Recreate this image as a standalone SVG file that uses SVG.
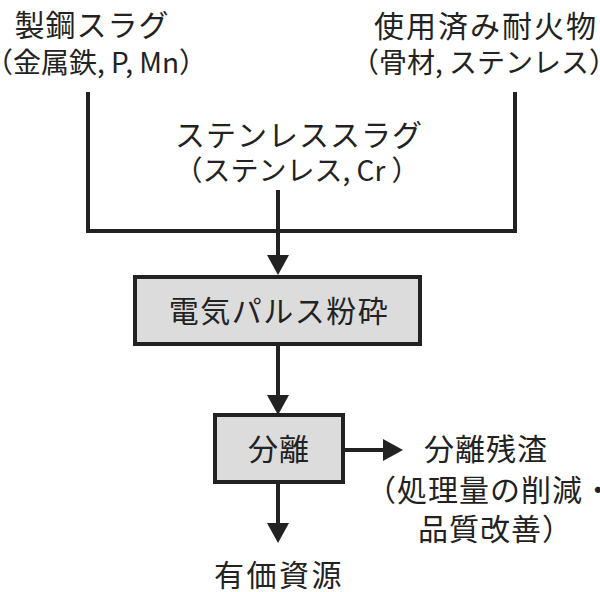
<svg xmlns="http://www.w3.org/2000/svg" width="600" height="592" viewBox="0 0 600 592">
<defs>
<style>
.t{font-family:"Noto Sans CJK JP","Noto Sans",sans-serif;fill:#222;text-anchor:middle}
.h{font-size:30px;letter-spacing:1px}
.s{font-size:28px}
.ln{stroke:#222;stroke-width:4;fill:none}
.box{fill:#dcdcdc;stroke:#222;stroke-width:4}
</style>
<marker id="ah" markerUnits="userSpaceOnUse" markerWidth="20" markerHeight="22" refX="12" refY="11" orient="auto">
<path d="M0,0 L20,11 L0,22 z" fill="#222"/>
</marker>
</defs>
<rect width="600" height="592" fill="#fff"/>
<g id="connectors">
<path class="ln" d="M88,92 V231 H515 V92"/>
<line class="ln" x1="278" y1="190" x2="278" y2="267" marker-end="url(#ah)"/>
<line class="ln" x1="278" y1="344" x2="278" y2="407" marker-end="url(#ah)"/>
<line class="ln" x1="343" y1="450" x2="395" y2="450" marker-end="url(#ah)"/>
<line class="ln" x1="278" y1="482" x2="278" y2="535" marker-end="url(#ah)"/>
</g>
<g id="steel-slag">
<text class="t h" x="92" y="36">製鋼スラグ</text>
<text class="t s" x="96" y="73">（金属鉄, P, Mn）</text>
</g>
<g id="refractory">
<text class="t h" x="486" y="37" style="letter-spacing:2px">使用済み耐火物</text>
<text class="t s" x="484" y="73">（骨材, ステンレス）</text>
</g>
<g id="stainless-slag">
<text class="t h" x="299" y="146">ステンレススラグ</text>
<text class="t s" x="297" y="181">（ステンレス, Cr ）</text>
</g>
<g id="pulse">
<rect class="box" x="135" y="277" width="285" height="67"/>
<text class="t h" x="279" y="322" style="letter-spacing:1.5px">電気パルス粉砕</text>
</g>
<g id="separation">
<rect class="box" x="215" y="415" width="128" height="67"/>
<text class="t h" x="279" y="460">分離</text>
</g>
<g id="residue">
<text class="t h" x="486" y="460">分離残渣</text>
<text class="t h" x="366" y="501" style="text-anchor:start">（処理量の削減・</text>
<text class="t h" x="418" y="540" style="text-anchor:start">品質改善）</text>
</g>
<g id="valuable">
<text class="t h" x="279" y="586" style="letter-spacing:2.5px">有価資源</text>
</g>
</svg>
